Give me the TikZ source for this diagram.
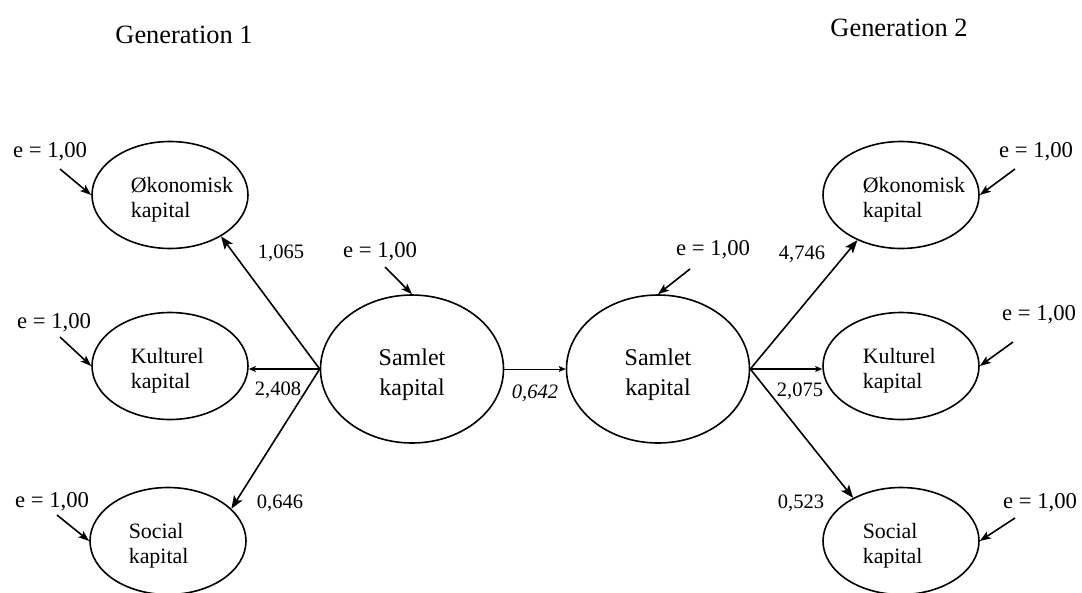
\documentclass[tikz,border=0pt]{standalone}
\usepackage{fontspec}
\setmainfont{Liberation Serif}
\usetikzlibrary{shapes.geometric, arrows.meta, positioning}

\begin{document}
\begin{tikzpicture}[x = 1pt, y = -1pt, % pixel-like units, y down
                > = {Stealth[length = 13pt, width = 10pt, inset = 3pt]}, % arrow head style
                line width = 1.6pt % line style
            ]

            \tikzstyle{latent}=[draw = black, ellipse, minimum width = 156pt,
            minimum height = 107pt, inner sep = 0pt]
            \tikzstyle{total}=[latent, minimum width = 183pt, minimum height = 148pt]
            \tikzstyle{totaltext}=[align = center, inner sep = 0pt,
            font = \fontsize{24}{30}\selectfont]
            \tikzstyle{vartext}=[align = left, anchor = west, inner sep = 0pt,
            font = \fontsize{21.9}{25}\selectfont]
            \tikzstyle{err}=[inner sep = 0pt, font = \fontsize{22.7}{26}\selectfont]
            \tikzstyle{coef}=[inner sep = 0pt, font = \fontsize{20.5}{24}\selectfont]
            \tikzstyle{small}=[-{Stealth[length = 7pt, width = 6pt, inset = 1.5pt]}]
            \tikzstyle{errarrow}=[-{Stealth[length = 11pt, width = 8pt, inset = 2.5pt]}]

            \useasboundingbox (0,0) rectangle (1082,592);

            % headings
            \node (gen1) [font = \fontsize{26.4}{30}\selectfont] at (184,35) {Generation 1};
            \node (gen2) [font = \fontsize{26.4}{30}\selectfont] at (899,28) {Generation 2};

            % generation 1
            \node (okL) [latent] at (170,195) {};
            \node (okLtxt) [vartext] at ([xshift = -40pt, yshift = -5pt]okL.center) {Økonomisk\\kapital};
            \node (kuL) [latent] at (170,366) {};
            \node (kuLtxt) [vartext] at ([xshift = -40pt, yshift = -5pt]kuL.center) {Kulturel\\kapital};
            \node (soL) [latent] at (168,541) {};
            \node (soLtxt) [vartext] at ([xshift = -40pt, yshift = -5pt]soL.center) {Social\\kapital};
            \node (saL) [total] at (412,369) {};
            \node (saLtxt) [totaltext] at ([yshift = -6pt]saL.center) {Samlet\\kapital};

            % generation 2
            \node (saR) [total] at (658,369) {};
            \node (saRtxt) [totaltext] at ([yshift = -6pt]saR.center) {Samlet\\kapital};
            \node (okR) [latent] at (901,195) {};
            \node (okRtxt) [vartext] at ([xshift = -39pt, yshift = -5pt]okR.center) {Økonomisk\\kapital};
            \node (kuR) [latent] at (901,366) {};
            \node (kuRtxt) [vartext] at ([xshift = -39pt, yshift = -5pt]kuR.center) {Kulturel\\kapital};
            \node (soR) [latent] at (901,541) {};
            \node (soRtxt) [vartext] at ([xshift = -39pt, yshift = -5pt]soR.center) {Social\\kapital};

            % loadings
            \draw[->] (saL.west) -- (okL.-39);
            \draw[small] (saL.west) -- (saL.west -| kuL.east);
            \draw[->] (saL.west) -- (soL.27.5);
            \draw[small, line width = 0.9pt] (saL.east) -- (saR.west);
            \draw[->] (saR.east) -- (okR.-134.4);
            \draw[small] (saR.east) -- (saR.east -| kuR.west);
            \draw[->] (saR.east) -- (soR.138.7);

            \node (c1) [coef] at (281,253) {1,065};
            \node (c2) [coef] at (278,390) {2,408};
            \node (c3) [coef] at (280,503) {0,646};
            \node (c4) [coef] at (535,393) {\itshape 0,642};
            \node (c5) [coef] at (802,254) {4,746};
            \node (c6) [coef] at (800,391) {2,075};
            \node (c7) [coef] at (801,503) {0,523};

            % error terms
            \node (eOkL) [err] at (50,152) {e = 1,00};
            \node (eKuL) [err] at (54,323) {e = 1,00};
            \node (eSoL) [err] at (52,502) {e = 1,00};
            \node (eSaL) [err] at (380,252) {e = 1,00};
            \node (eSaR) [err] at (713,250) {e = 1,00};
            \node (eOkR) [err] at (1036,152) {e = 1,00};
            \node (eKuR) [err] at (1039,315) {e = 1,00};
            \node (eSoR) [err] at (1040,503) {e = 1,00};

            \coordinate (tOkL) at (60,169);
            \coordinate (tKuL) at (60,337);
            \coordinate (tSoL) at (57,515);
            \coordinate (tSaL) at (385,267);
            \coordinate (tSaR) at (690,269);
            \coordinate (tOkR) at (1015,169);
            \coordinate (tKuR) at (1013,342);
            \coordinate (tSoR) at (1015,518);

            \draw[errarrow] (tOkL) -- (okL.west);
            \draw[errarrow] (tKuL) -- (kuL.west);
            \draw[errarrow] (tSoL) -- (soL.west);
            \draw[errarrow] (tSaL) -- (saL.north);
            \draw[errarrow] (tSaR) -- (saR.north);
            \draw[errarrow] (tOkR) -- (okR.east);
            \draw[errarrow] (tKuR) -- (kuR.east);
            \draw[errarrow] (tSoR) -- (soR.east);
        \end{tikzpicture}
\end{document}
